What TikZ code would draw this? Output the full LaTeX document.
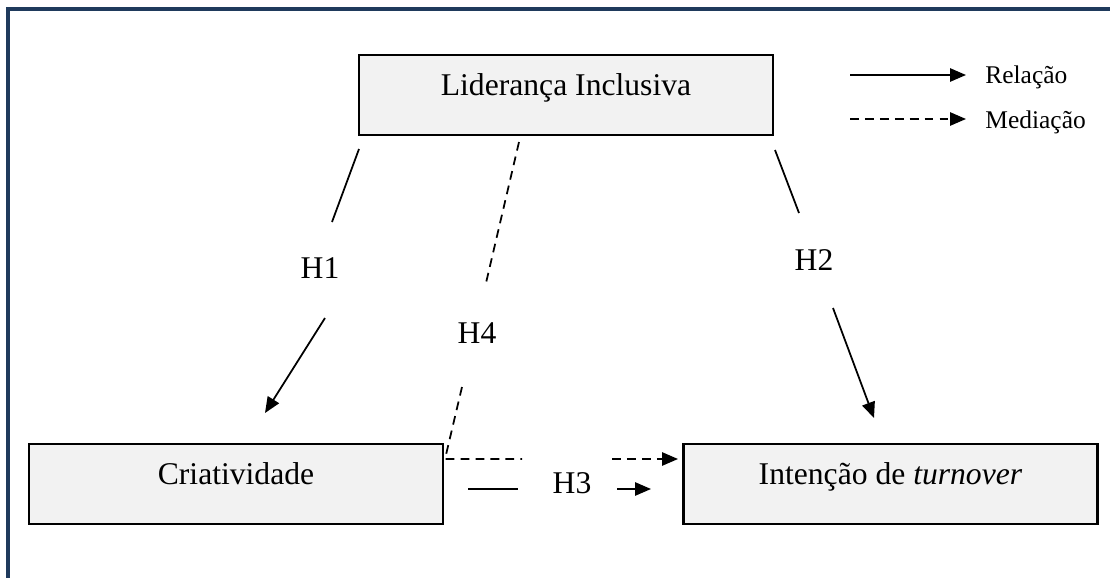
\documentclass[tikz,border=0pt]{standalone}
\usepackage{fontspec}
\setmainfont{Liberation Serif}
\usetikzlibrary{arrows.meta}
\definecolor{framecol}{HTML}{1F3A5C}
\definecolor{boxfill}{HTML}{F2F2F2}

\begin{document}
\begin{tikzpicture}[x=0.02cm,y=-0.02cm,
    varbox/.style={draw, line width=1.4pt, fill=boxfill, inner sep=0pt,
      minimum width=8.28cm, minimum height=1.6cm,
      text height=12pt, text depth=11pt, font=\fontsize{18}{21}\selectfont},
    hlabel/.style={inner sep=0pt, font=\fontsize{18}{21}\selectfont},
    legtext/.style={inner sep=0pt, anchor=base west, font=\fontsize{14.5}{17}\selectfont},
    rel/.style={line width=1pt},
    med/.style={line width=1pt, dash pattern=on 5pt off 3.5pt},
    tip/.style={-{Triangle[length=9pt,width=7.5pt]}}]
  \useasboundingbox (0,0) rectangle (1110,578);
  \draw[framecol, line width=2pt] (8,578) -- (8,9) -- (1110,9);

  % variables
  \node[varbox] (lider) at (566,95) {Liderança Inclusiva};
  \node[varbox] (criat) at (236,484) {Criatividade};
  \node[varbox] (turn) at (890.5,484) {Intenção de \textit{turnover}};

  % hypothesis labels
  \node[hlabel] (h1) at (320,268) {H1};
  \node[hlabel] (h2) at (814,260) {H2};
  \node[hlabel] (h3) at (572,483) {H3};
  \node[hlabel] (h4) at (477,333) {H4};

  % H1
  \coordinate (h1a) at (359,149);
  \coordinate (h1b) at (332,222);
  \coordinate (h1c) at (325,318);
  \coordinate (h1d) at (265,413);
  \draw[rel] (h1a) -- (h1b);
  \draw[rel,tip] (h1c) -- (h1d);

  % H2
  \coordinate (h2a) at (775,150);
  \coordinate (h2b) at (799,213);
  \coordinate (h2c) at (833,308);
  \coordinate (h2d) at (874,418);
  \draw[rel] (h2a) -- (h2b);
  \draw[rel,tip] (h2c) -- (h2d);

  % H3
  \coordinate (h3a) at (468,489);
  \coordinate (h3b) at (518,489);
  \coordinate (h3c) at (617,489);
  \coordinate (h3d) at (651,489);
  \draw[rel] (h3a) -- (h3b);
  \draw[rel,tip] (h3c) -- (h3d);

  % H4 (mediation)
  \coordinate (h4a) at (519,142);
  \coordinate (h4b) at (486,283);
  \coordinate (h4c) at (462,387);
  \coordinate (h4d) at (445,459);
  \coordinate (h4e) at (522,459);
  \coordinate (h4f) at (612,459);
  \coordinate (h4g) at (678,459);
  \draw[med] (h4a) -- (h4b);
  \draw[med] (h4c) -- (h4d) -- (h4e);
  \draw[med,tip] (h4f) -- (h4g);

  % legend
  \node[legtext] (lrel) at (985,83) {Relação};
  \node[legtext] (lmed) at (985,128) {Mediação};
  \coordinate (lrela) at (850,75);
  \coordinate (lrelb) at (966,75);
  \coordinate (lmeda) at (850,119);
  \coordinate (lmedb) at (966,119);
  \draw[rel,tip] (lrela) -- (lrelb);
  \draw[med,tip] (lmeda) -- (lmedb);
\end{tikzpicture}
\end{document}
